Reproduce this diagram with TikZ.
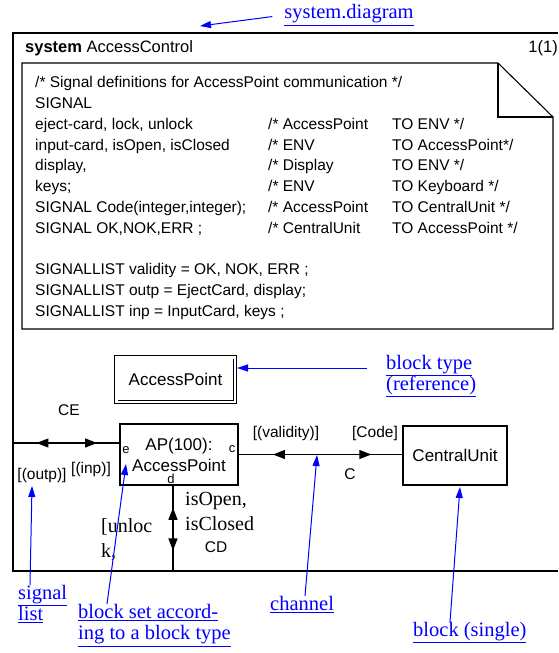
\documentclass[tikz,border=0pt]{standalone}
\usepackage{fontspec}
\setmainfont{Liberation Serif}
\setsansfont{Liberation Sans}
\usetikzlibrary{arrows.meta,decorations.markings}
\newcommand\sdlsf{\sffamily\fontsize{15.5}{20.8}\selectfont}
\newcommand\sdlbig{\sffamily\fontsize{17}{21}\selectfont}
\newcommand\sdlrm{\rmfamily\fontsize{20}{25}\selectfont}
\newcommand\linkrm{\rmfamily\fontsize{20.5}{21.5}\selectfont}
\tikzset{
  frameline/.style={draw, line width=1.3pt},
  sdlbox/.style={draw, line width=1.1pt, font=\sdlbig, align=center, inner sep=0pt},
  refbox/.style={sdlbox, double, double distance=2.5pt, line width=0.9pt},
  chan/.style={line width=1.1pt},
  sigfwd/.style={postaction={decorate, decoration={markings,
      mark=at position #1 with {\arrow{Triangle[length=12pt,width=9pt]}}}}},
  sigback/.style={postaction={decorate, decoration={markings,
      mark=at position #1 with {\arrowreversed{Triangle[length=12pt,width=9pt]}}}}},
  siglbl/.style={font=\sdlsf, inner sep=0pt},
  gatelbl/.style={font=\sffamily\fontsize{13}{14}\selectfont, inner sep=0pt},
  rmlbl/.style={font=\sdlrm, inner sep=0pt, align=left},
  link/.style={font=\linkrm, text=blue, inner sep=0pt, align=left},
  pointer/.style={draw=blue, line width=1pt, -{Triangle[length=11pt,width=7pt]}}
}

\begin{document}
\begin{tikzpicture}[x=1pt, y=-1pt]
  \useasboundingbox (0,0) rectangle (558,653);

  % system frame, runs on past the right border
  \draw[frameline] (558,33) -- (13,33) -- (13,571) -- (558,571);
  \node[font=\sffamily\fontsize{16.5}{20}\selectfont, anchor=base west, inner sep=0pt]
    (sysname) at (25,52) {\textbf{system} AccessControl};
  \node[font=\sffamily\fontsize{16.5}{20}\selectfont, anchor=base east, inner sep=0pt]
    (pageno) at (558,52) {1(1)};

  % text symbol with the signal definitions
  \draw[line width=1.1pt] (22,63) -- (498,63) -- (553,117) -- (553,329) -- (22,329) -- cycle;
  \draw[line width=1.1pt] (498,63) -- (498,117) -- (553,117);
  \node[font=\sdlsf, anchor=north west, inner sep=0pt] (sigdefs) at (35,73) {%
    \begin{tabular}{@{}p{233pt}@{}p{124pt}@{}l@{}}
    \multicolumn{3}{@{}l@{}}{/* Signal definitions for AccessPoint communication */}\\
    \multicolumn{3}{@{}l@{}}{SIGNAL}\\
    eject-card, lock, unlock & /* AccessPoint & TO ENV */\\
    input-card, isOpen, isClosed & /* ENV & TO AccessPoint*/\\
    display, & /* Display & TO ENV */\\
    keys; & /* ENV & TO Keyboard */\\
    SIGNAL Code(integer,integer); & /* AccessPoint & TO CentralUnit */\\
    SIGNAL OK,NOK,ERR ; & /* CentralUnit & TO AccessPoint */\\
    \\
    \multicolumn{3}{@{}l@{}}{SIGNALLIST validity = OK, NOK, ERR ;}\\
    \multicolumn{3}{@{}l@{}}{SIGNALLIST outp = EjectCard, display;}\\
    \multicolumn{3}{@{}l@{}}{SIGNALLIST inp = InputCard, keys ;}
    \end{tabular}};

  % blocks
  \node[refbox, minimum width=118.5pt, minimum height=44.5pt] (apref) at (175.5,379.5) {AccessPoint};
  \node[sdlbox, minimum width=118pt, minimum height=61pt] (ap) at (179,454.5) {AP(100):\\AccessPoint};
  \node[sdlbox, minimum width=104pt, minimum height=59pt] (cu) at (455,455.5) {CentralUnit};
  \node[gatelbl] (gatee) at (126,450) {e};
  \node[gatelbl] (gatec) at (232,449) {c};
  \node[gatelbl] (gated) at (171,479) {d};

  % channels
  \coordinate (envw) at (13,443);
  \coordinate (envs) at (173,571);
  \draw[chan, sigback=0.22, sigfwd=0.79] (envw) -- (envw -| ap.west);
  \draw[chan, sigback=0.21, sigfwd=0.81] (ap.east) -- (ap.east -| cu.west);
  \draw[chan, sigback=0.26, sigfwd=0.76] (envs |- ap.south) -- (envs);

  \node[siglbl] (ce) at (69,410) {CE};
  \node[siglbl] (outp) at (42,475) {[(outp)]};
  \node[siglbl] (inp) at (91,469) {[(inp)]};
  \node[siglbl] (validity) at (286,433) {[(validity)]};
  \node[siglbl] (code) at (375,433) {[Code]};
  \node[siglbl] (cname) at (350,474) {C};
  \node[rmlbl, anchor=north west] (opensig) at (185,492) {isOpen,\\isClosed};
  \node[siglbl] (cd) at (216,547) {CD};
  \node[rmlbl, anchor=north west] (unlocksig) at (101,518) {[unloc\\k,};

  % blue explanations
  \node[link] (sysdiag) at (349,15) {\underline{system.diagram}};
  \node[link, anchor=north west] (blocktype) at (386,355) {\underline{block type}\\\underline{(reference)}};
  \node[link, anchor=north west] (siglist) at (18,585) {\underline{signal}\\\underline{list}};
  \node[link, anchor=north west] (blockset) at (78,604) {\underline{block set accord-}\\\underline{ing to a block type}};
  \node[link, anchor=north west] (chanlbl) at (270,596) {\underline{channel}};
  \node[link, anchor=north west] (blocklbl) at (413,622) {\underline{block (single)}};

  \coordinate (sysdiagtip) at (200,26);
  \coordinate (reftip) at (237,368);
  \coordinate (listtip) at (32,486);
  \coordinate (settip) at (126,464);
  \coordinate (chantip) at (317,455);
  \coordinate (celltip) at (460,487);
  \draw[pointer, shorten <=12pt] (sysdiag.west) -- (sysdiagtip);
  \draw[pointer, shorten <=19pt] (blocktype.west |- reftip) -- (reftip);
  \draw[pointer] ([xshift=12pt]siglist.north west) -- (listtip);
  \draw[pointer] ([xshift=29pt]blockset.north west) -- (settip);
  \draw[pointer] ([xshift=35pt]chanlbl.north west) -- (chantip);
  \draw[pointer] ([xshift=37pt]blocklbl.north west) -- (celltip);
\end{tikzpicture}
\end{document}
